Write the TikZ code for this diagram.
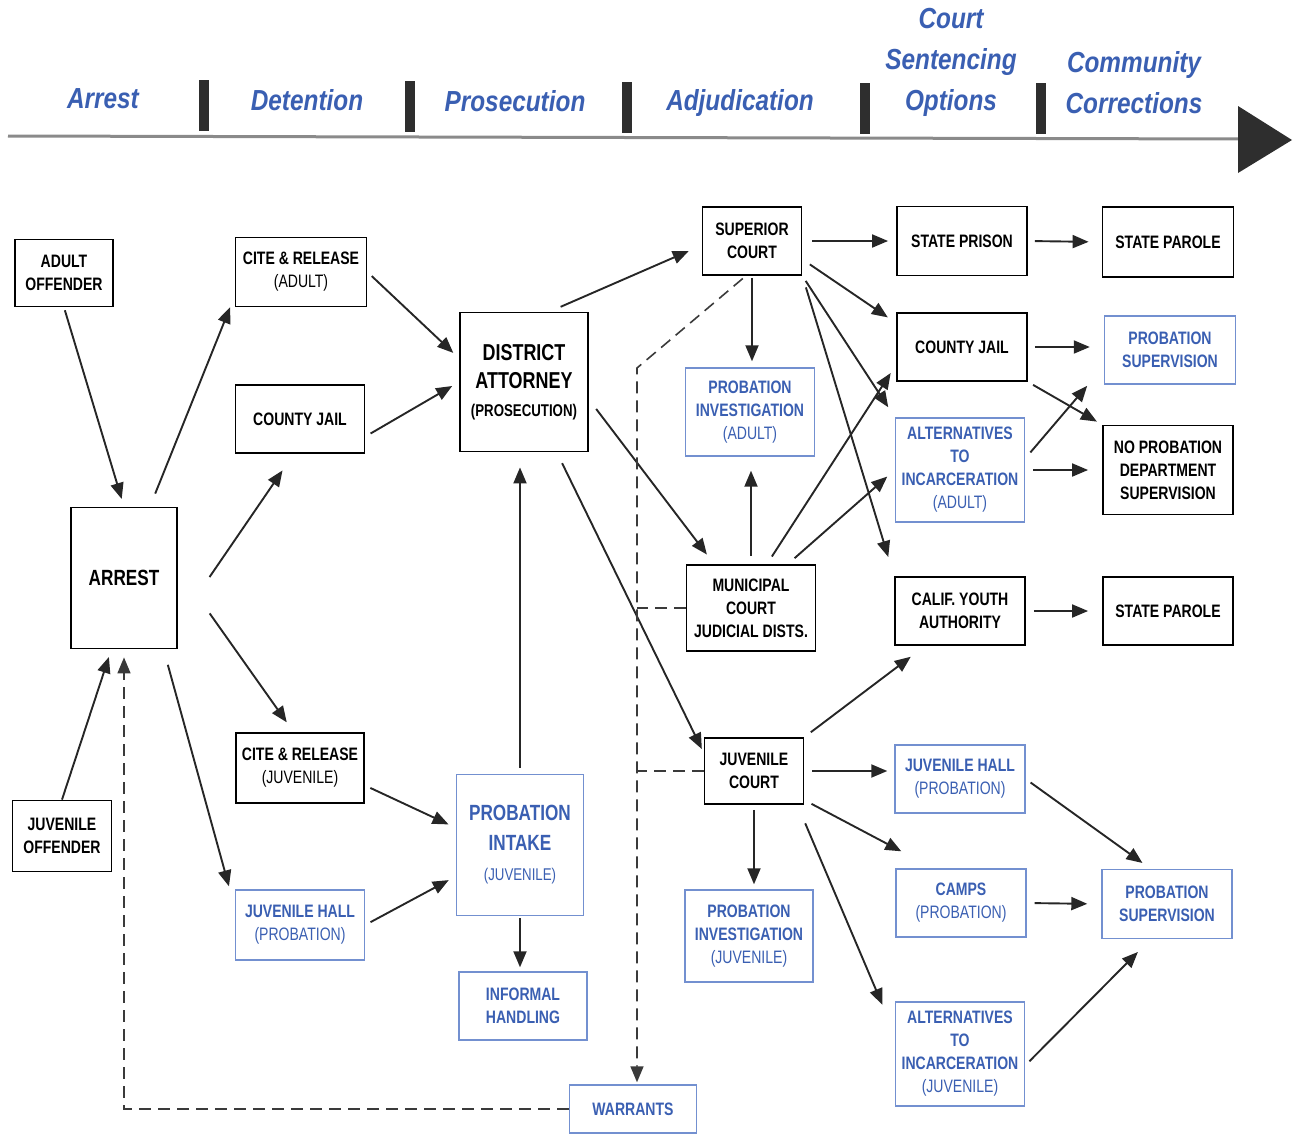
\documentclass[tikz,border=0pt]{standalone}
\usepackage{fontspec}
\setmainfont{Liberation Sans}
\newfontfamily\boxfont[FakeStretch=0.78]{Liberation Sans}
\newfontfamily\phasefont[FakeStretch=0.84]{Liberation Sans}
\usetikzlibrary{arrows.meta, calc}
\definecolor{cblue}{HTML}{3A5FB2}
\definecolor{cbluebox}{HTML}{7390D0}
\definecolor{cbar}{HTML}{2E2E2E}
\definecolor{cline}{HTML}{8A8A8A}
\definecolor{cdash}{HTML}{3A3A3A}
\newcommand{\subl}[1]{{\mdseries #1}}
\tikzset{
  blk/.style={draw=black, line width=1.8pt, fill=white, align=center, inner sep=2pt,
    font=\boxfont\fontsize{18}{23}\selectfont\bfseries},
  blu/.style={blk, draw=cbluebox, line width=1.4pt, text=cblue},
  wh/.style 2 args={minimum width=#1, minimum height=#2},
  arr/.style={-{Triangle[length=16pt,width=13pt]}, line width=1.9pt, draw=black!85,
    shorten <=6pt, shorten >=8pt},
  dsh/.style={cdash, line width=1.6pt, dash pattern=on 12pt off 7pt},
  phase/.style={text=cblue, font=\phasefont\fontsize{29}{41}\selectfont\bfseries\itshape, align=center},
}

\begin{document}
\begin{tikzpicture}[x=1pt, y=-1pt]
  \useasboundingbox (0,0) rectangle (1294,1135);

  % time line with the phases
  \draw[line width=3pt, cline] (8,136) -- (1242,139);
  \fill[cbar] (1238,106) -- (1292,140) -- (1238,173) -- cycle;
  \foreach \x/\y in {204/80, 410/81, 627/82, 865/83, 1041/83}
    \fill[cbar] (\x-5,\y) rectangle (\x+5,\y+51);
  \node[phase] (ph1) at (103,99) {Arrest};
  \node[phase] (ph2) at (307,100) {Detention};
  \node[phase] (ph3) at (515,101) {Prosecution};
  \node[phase] (ph4) at (740,103) {Adjudication};
  \node[phase] (ph5) at (951,62) {Court\\Sentencing\\Options};
  \node[phase] (ph6) at (1134,83) {Community\\Corrections};

  % arrest and detention
  \node[blk, wh={98}{67}] (aoff) at (64,273) {ADULT\\OFFENDER};
  \node[blk, wh={106}{141}, font=\boxfont\fontsize{22}{26}\selectfont\bfseries] (arrest) at (124,578) {ARREST};
  \node[blk, wh={99}{71}] (joff) at (62,836) {JUVENILE\\OFFENDER};
  \node[blk, wh={131}{69}] (crA) at (301,272) {CITE \& RELEASE\\\subl{(ADULT)}};
  \node[blk, wh={129}{68}] (cjL) at (300,419) {COUNTY JAIL};
  \node[blk, wh={128}{70}] (crJ) at (300,768) {CITE \& RELEASE\\\subl{(JUVENILE)}};
  \node[blu, wh={129}{70}] (jhL) at (300,925) {JUVENILE HALL\\\subl{(PROBATION)}};

  % prosecution
  \node[blk, wh={128}{139}, font=\boxfont\fontsize{23}{28}\selectfont\bfseries] (da) at (524,382)
    {DISTRICT\\ATTORNEY\\{\fontsize{17}{24}\selectfont(PROSECUTION)}};
  \node[blu, wh={127}{141}, font=\boxfont\fontsize{22}{30}\selectfont\bfseries] (intake) at (520,845)
    {PROBATION\\INTAKE\\{\fontsize{17}{24}\selectfont\mdseries(JUVENILE)}};
  \node[blu, wh={128}{68}] (informal) at (523,1006) {INFORMAL\\HANDLING};
  \node[blu, wh={127}{48}] (warrants) at (633,1109) {WARRANTS};

  % adjudication
  \node[blk, wh={99}{68}] (sup) at (752,241) {SUPERIOR\\COURT};
  \node[blu, wh={129}{88}] (piA) at (750,412) {PROBATION\\INVESTIGATION\\\subl{(ADULT)}};
  \node[blk, wh={129}{86}] (muni) at (751,608) {MUNICIPAL\\COURT\\JUDICIAL DISTS.};
  \node[blk, wh={99}{66}] (jcourt) at (754,771) {JUVENILE\\COURT};
  \node[blu, wh={128}{92}] (piJ) at (749,936) {PROBATION\\INVESTIGATION\\\subl{(JUVENILE)}};

  % sentencing options
  \node[blk, wh={130}{69}] (prison) at (962,241) {STATE PRISON};
  \node[blk, wh={130}{68}] (cjR) at (962,347) {COUNTY JAIL};
  \node[blu, wh={129}{104}] (altA) at (960,470) {ALTERNATIVES\\TO\\INCARCERATION\\\subl{(ADULT)}};
  \node[blk, wh={130}{68}] (cya) at (960,611) {CALIF. YOUTH\\AUTHORITY};
  \node[blu, wh={130}{68}] (jhR) at (960,779) {JUVENILE HALL\\\subl{(PROBATION)}};
  \node[blu, wh={130}{68}] (camps) at (961,903) {CAMPS\\\subl{(PROBATION)}};
  \node[blu, wh={129}{104}] (altJ) at (960,1054) {ALTERNATIVES\\TO\\INCARCERATION\\\subl{(JUVENILE)}};

  % community corrections
  \node[blk, wh={131}{70}] (parole1) at (1168,242) {STATE PAROLE};
  \node[blu, wh={131}{68}] (psup1) at (1170,350) {PROBATION\\SUPERVISION};
  \node[blk, wh={130}{89}] (noprob) at (1168,470) {NO PROBATION\\DEPARTMENT\\SUPERVISION};
  \node[blk, wh={130}{68}] (parole2) at (1168,611) {STATE PAROLE};
  \node[blu, wh={130}{69}] (psup2) at (1167,904) {PROBATION\\SUPERVISION};

  % flows into detention
  \draw[arr, shorten <=3pt] (aoff.south) -- (arrest.north);
  \draw[arr, shorten <=0pt] (joff.north) -- (arrest.-100);
  \draw[arr, shorten <=14pt, shorten >=12pt] (arrest.70) -- (crA.200);
  \draw[arr, shorten <=56pt, shorten >=20pt] (arrest.-40) -- (cjL.-100);
  \draw[arr, shorten <=55pt, shorten >=12pt] (arrest.10) -- (crJ.100);
  \draw[arr, shorten <=16pt, shorten >=22pt] (arrest.-61) -- (jhL.165);
  \draw[arr] (crA.east) -- (da.160);
  \draw[arr] (cjL.-15) -- (da.west);
  \draw[arr] (crJ.-15) -- (intake.165);
  \draw[arr] (jhL.east) -- (intake.-154);
  \draw[arr, shorten >=15pt] (intake.north) -- (intake.north |- da.south);
  \draw[arr, shorten <=2pt, shorten >=4pt] (intake.south) -- (intake.south |- informal.north);

  % prosecution to the courts
  \draw[arr, shorten <=12pt, shorten >=14pt] (da.70) -- (sup.-175);
  \draw[arr, shorten <=12pt, shorten >=12pt] (da.-15) -- (muni.130);
  \draw[arr, shorten <=12pt, shorten >=4pt] (da.-65) -- (jcourt.160);

  % superior and municipal courts
  \draw[arr, shorten <=10pt] (sup.east) -- (prison.west);
  \draw[arr, shorten <=9pt, shorten >=10pt] (sup.-20) -- (cjR.160);
  \draw[arr, shorten <=6pt, shorten >=12pt] (sup.south east) -- (altA.north west);
  \draw[arr, shorten <=12pt, shorten >=20pt] (sup.south east) -- (cya.north west);
  \draw[arr, shorten <=2pt, shorten >=6pt] (sup.south) -- (sup.south |- piA.north);
  \draw[arr, shorten <=8pt, shorten >=14pt] (muni.north) -- (muni.north |- piA.south);
  \draw[arr, shorten <=9pt, shorten >=10pt] (muni.70) -- (cjR.-165);
  \draw[arr, shorten <=9pt, shorten >=10pt] (muni.50) -- (altA.west);

  % sentences to community corrections
  \draw[arr, shorten <=7pt, shorten >=13pt] (prison.east) -- (parole1.west);
  \draw[arr, shorten <=7pt, shorten >=14pt] (cjR.east) -- (cjR.east -| psup1.west);
  \draw[arr, shorten <=6pt, shorten >=6pt] (cjR.south east) -- (noprob.north west);
  \draw[arr, shorten <=8pt, shorten >=4pt] (altA.10) -- ($(psup1.south west)+(-14,-2)$);
  \draw[arr, shorten <=8pt, shorten >=14pt] (altA.east) -- (noprob.west);
  \draw[arr, shorten <=8pt, shorten >=14pt] (cya.east) -- (parole2.west);

  % juvenile court
  \draw[arr, shorten <=8pt, shorten >=18pt] (jcourt.north east) -- (cya.-135);
  \draw[arr, shorten <=8pt, shorten >=7pt] (jcourt.east) -- (jcourt.east -| jhR.west);
  \draw[arr, shorten <=8pt, shorten >=0pt] (jcourt.-30) -- ($(camps.north west)+(6,-17)$);
  \draw[arr, shorten <=20pt, shorten >=32pt] (jcourt.-38) -- (altJ.163);
  \draw[arr, shorten <=5pt, shorten >=5pt] (jcourt.south) -- (jcourt.south |- piJ.north);
  \draw[arr, shorten <=6pt, shorten >=10pt] (jhR.east) -- (psup2.115);
  \draw[arr, shorten <=8pt, shorten >=14pt] (camps.east) -- (psup2.west);
  \draw[arr, shorten <=6pt, shorten >=18pt] (altJ.-10) -- (psup2.-115);

  % warrants
  \coordinate (wbend) at (637,368);
  \draw[dsh, -{Triangle[length=16pt,width=13pt]}, shorten <=4pt, shorten >=2pt]
    (sup.-100) -- (wbend) -- (wbend |- warrants.north);
  \draw[dsh] (muni.west) -- (muni.west -| wbend);
  \draw[dsh] (jcourt.west) -- (jcourt.west -| wbend);
  \draw[dsh, -{Triangle[length=16pt,width=13pt]}, shorten >=8pt]
    (warrants.west) -- (warrants.west -| arrest.south) -- (arrest.south);
\end{tikzpicture}
\end{document}
